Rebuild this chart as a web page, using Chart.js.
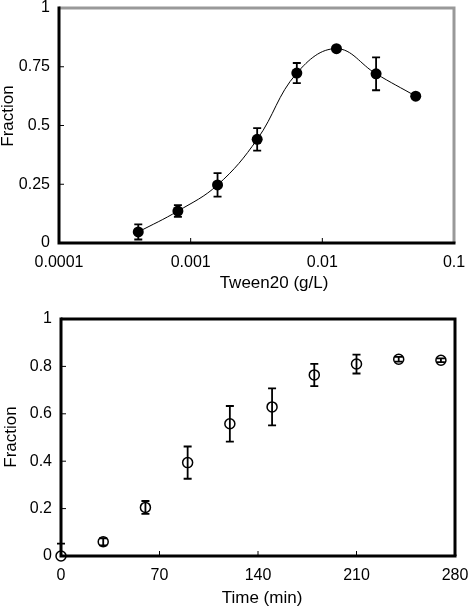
<!DOCTYPE html>
<html>
<head>
<meta charset="utf-8">
<script src="https://cdn.jsdelivr.net/npm/chart.js@4/dist/chart.umd.min.js"></script>
<style>
  html, body { margin: 0; padding: 0; background: #fff; }
  .panel { position: absolute; left: 0; width: 468px; }
  #top { top: 0; height: 300px; }
  #bottom { top: 300px; height: 308px; }
</style>
</head>
<body>
<div class="panel" id="top"><canvas id="tween-chart" width="468" height="300"></canvas></div>
<div class="panel" id="bottom"><canvas id="time-chart" width="468" height="308"></canvas></div>
<script>
// top panel: fraction vs Tween20 concentration
const tweenConc = [0.0004, 0.0008, 0.0016, 0.0032, 0.0064, 0.0128, 0.0256, 0.0512];
const tweenFrac = [0.047, 0.136, 0.247, 0.441, 0.723, 0.827, 0.72, 0.625];
const tweenErr = [0.032, 0.025, 0.05, 0.048, 0.043, 0.006, 0.07, 0.01];
const tweenXTicks = [0.0001, 0.001, 0.01, 0.1];
const tweenYTicks = [0, 0.25, 0.5, 0.75, 1];

// bottom panel: fraction vs time
const timeMin = [0, 30, 60, 90, 120, 150, 180, 210, 240, 270];
const timeFrac = [0, 0.06, 0.205, 0.394, 0.558, 0.629, 0.764, 0.81, 0.83, 0.826];
const timeErr = [0.052, 0.015, 0.027, 0.068, 0.075, 0.078, 0.047, 0.04, 0.01, 0.008];
const timeXTicks = [0, 70, 140, 210, 280];
const timeYTicks = [0, 0.2, 0.4, 0.6, 0.8, 1];

const FONT = '"Liberation Sans", Arial, sans-serif';

// frame, inward tick marks, error bars and axis titles
const decor = {
  id: 'decor',
  beforeDatasetsDraw(chart, args, opts) {
    const ctx = chart.ctx;
    const { left, right, top, bottom } = chart.chartArea;
    const xs = chart.scales.x, ys = chart.scales.y;

    ctx.save();
    ctx.strokeStyle = '#000';
    ctx.lineWidth = 1;
    ctx.beginPath();
    xs.ticks.forEach(t => {
      const x = xs.getPixelForValue(t.value);
      if (x <= left + 1 || x >= right - 1) return;
      ctx.moveTo(x, bottom); ctx.lineTo(x, bottom - 5);
    });
    ys.ticks.forEach(t => {
      const y = ys.getPixelForValue(t.value);
      if (y <= top + 1 || y >= bottom - 1) return;
      ctx.moveTo(left, y); ctx.lineTo(left + 5, y);
    });
    ctx.stroke();

    ctx.lineWidth = 3;
    ctx.strokeStyle = opts.topRightColor;
    ctx.beginPath();
    ctx.moveTo(left, top); ctx.lineTo(right, top); ctx.lineTo(right, bottom);
    ctx.stroke();
    ctx.strokeStyle = '#000';
    ctx.beginPath();
    ctx.moveTo(left, top - 1.5); ctx.lineTo(left, bottom); ctx.lineTo(right + 1.5, bottom);
    ctx.stroke();

    // error bars, cut at the x axis
    ctx.beginPath();
    ctx.rect(0, 0, chart.width, bottom);
    ctx.clip();
    ctx.lineWidth = 1.8;
    ctx.beginPath();
    chart.data.datasets.forEach(ds => {
      if (!ds.errorBars) return;
      ds.data.forEach((p, i) => {
        const e = ds.errorBars[i];
        const x = xs.getPixelForValue(p.x);
        const y1 = ys.getPixelForValue(p.y + e);
        const y2 = ys.getPixelForValue(p.y - e);
        ctx.moveTo(x, y1); ctx.lineTo(x, y2);
        ctx.moveTo(x - 4, y1); ctx.lineTo(x + 4, y1);
        ctx.moveTo(x - 4, y2); ctx.lineTo(x + 4, y2);
      });
    });
    ctx.stroke();
    ctx.restore();
  },
  afterDraw(chart, args, opts) {
    const ctx = chart.ctx;
    ctx.save();
    ctx.fillStyle = '#000';
    ctx.font = '17px ' + FONT;
    ctx.textAlign = 'center';
    ctx.textBaseline = 'middle';
    opts.titles.forEach(t => {
      ctx.save();
      ctx.translate(t.x, t.y);
      if (t.rotate) ctx.rotate(-Math.PI / 2);
      ctx.fillText(t.text, 0, 0);
      ctx.restore();
    });
    ctx.restore();
  }
};

function fixedScale(size, isX, tickValues, fmt) {
  return {
    afterBuildTicks: s => { s.ticks = tickValues.map(v => ({ value: v })); },
    afterFit: s => {
      if (isX) s.height = size; else s.width = size;
      s.paddingLeft = s.paddingRight = s.paddingTop = s.paddingBottom = 0;
    },
    grid: { display: false, drawTicks: false },
    border: { display: false },
    ticks: {
      autoSkip: false, maxRotation: 0, minRotation: 0,
      padding: isX ? 10 : 9,
      color: '#000',
      font: { family: FONT, size: 16 },
      callback: fmt,
    },
  };
}

new Chart(document.getElementById('tween-chart'), {
  type: 'line',
  data: {
    datasets: [{
      data: tweenConc.map((x, i) => ({ x, y: tweenFrac[i] })),
      errorBars: tweenErr,
      tension: 0.4,
      borderColor: '#000',
      borderWidth: 1,
      pointRadius: 5.5,
      pointBackgroundColor: '#000',
      pointBorderColor: '#000',
      pointBorderWidth: 0,
      clip: false,
    }],
  },
  options: {
    responsive: false,
    animation: false,
    events: [],
    layout: { padding: { top: 8, right: 14, left: 0, bottom: 0 } },
    plugins: {
      legend: { display: false },
      tooltip: { enabled: false },
      decor: {
        topRightColor: '#999',
        titles: [
          { text: 'Tween20 (g/L)', x: 274, y: 283 },
          { text: 'Fraction', x: 8, y: 116, rotate: true },
        ],
      },
    },
    scales: {
      x: { type: 'logarithmic', min: 0.0001, max: 0.1, ...fixedScale(57, true, tweenXTicks, v => String(v)) },
      y: { type: 'linear', min: 0, max: 1, ...fixedScale(59, false, tweenYTicks, v => String(v)) },
    },
  },
  plugins: [decor],
});

new Chart(document.getElementById('time-chart'), {
  type: 'line',
  data: {
    datasets: [{
      data: timeMin.map((x, i) => ({ x, y: timeFrac[i] })),
      errorBars: timeErr,
      showLine: false,
      pointRadius: 5,
      pointBackgroundColor: 'rgba(0,0,0,0)',
      pointBorderColor: '#000',
      pointBorderWidth: 1.5,
      clip: false,
    }],
  },
  options: {
    responsive: false,
    animation: false,
    events: [],
    layout: { padding: { top: 19, right: 13, left: 0, bottom: 0 } },
    plugins: {
      legend: { display: false },
      tooltip: { enabled: false },
      decor: {
        topRightColor: '#000',
        titles: [
          { text: 'Time (min)', x: 262, y: 298 },
          { text: 'Fraction', x: 11, y: 137, rotate: true },
        ],
      },
    },
    scales: {
      x: { type: 'linear', min: 0, max: 280, ...fixedScale(52, true, timeXTicks, v => String(v)) },
      y: { type: 'linear', min: 0, max: 1, ...fixedScale(61, false, timeYTicks, v => String(+v.toFixed(1))) },
    },
  },
  plugins: [decor],
});
</script>
</body>
</html>
